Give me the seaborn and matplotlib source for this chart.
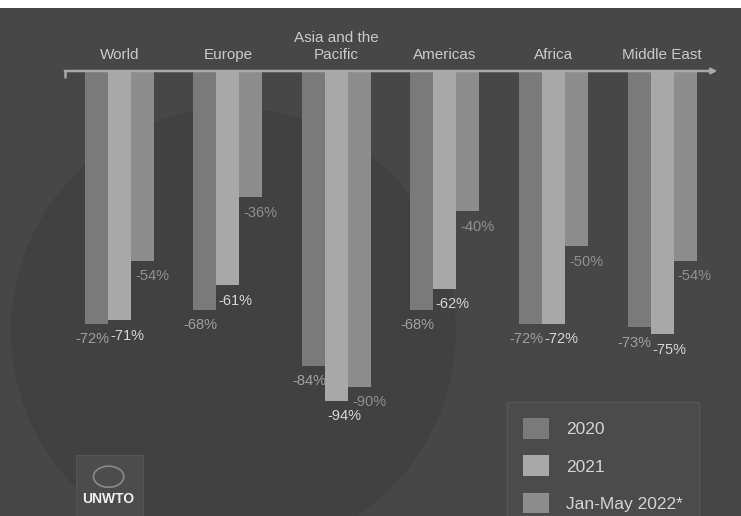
import pandas as pd
import numpy as np
import matplotlib.pyplot as plt
import matplotlib.patches as mpatches
import seaborn as sns

# Data (international tourist arrivals change vs 2019, %)
regions = ["World", "Europe", "Asia and the\nPacific", "Americas", "Africa", "Middle East"]
periods = ["2020", "2021", "Jan-May 2022*"]
vals_2020 = [-72, -68, -84, -68, -72, -73]
vals_2021 = [-71, -61, -94, -62, -72, -75]
vals_2022 = [-54, -36, -90, -40, -50, -54]

df = pd.DataFrame({
    "region": regions * 3,
    "period": [periods[0]] * 6 + [periods[1]] * 6 + [periods[2]] * 6,
    "change": vals_2020 + vals_2021 + vals_2022,
})

bg = "#474747"
palette = {"2020": "#7a7a7a", "2021": "#a8a8a8", "Jan-May 2022*": "#8d8d8d"}
label_colors = {"2020": "#a0a0a0", "2021": "#d6d6d6", "Jan-May 2022*": "#909090"}
label_dx = {"2020": -0.04, "2021": 0.07, "Jan-May 2022*": 0.09}

sns.set_style("white")
plt.rcParams["font.family"] = ["Liberation Sans", "DejaVu Sans"]

fig = plt.figure(figsize=(7.41, 5.16), dpi=100, facecolor="white")
ax = fig.add_axes([0, 0, 1, 508 / 516])
ax.set_facecolor(bg)

# faint dark circle in the background
ax.add_patch(mpatches.Ellipse((1.05, -74), 4.1, 127, color="#414141", zorder=0, lw=0))

sns.barplot(data=df, x="region", y="change", hue="period", order=regions,
            hue_order=periods, palette=palette, width=0.636, saturation=1,
            gap=0, ax=ax, zorder=2, legend=True, linewidth=0)

ax.set_xlim(-1.101, 5.728)
ax.set_ylim(-126.8, 17.95)
for s in ax.spines.values():
    s.set_visible(False)
ax.set_xticks([])
ax.set_yticks([])
ax.set_xlabel("")
ax.set_ylabel("")

# value labels under each bar
for period, cont in zip(periods, ax.containers):
    for bar in cont:
        v = bar.get_height()
        xc = bar.get_x() + bar.get_width() / 2 + label_dx[period]
        ax.text(xc, v - 4.4, f"{int(round(v))}%", ha="center", va="center",
                fontsize=10.5, color=label_colors[period], zorder=3)

# category labels above the axis line
for i, r in enumerate(regions):
    ax.text(i, 2.5, r, ha="center", va="bottom", fontsize=11,
            color="#cacaca", linespacing=1.25, zorder=3)

# axis line with small tick at left and arrow at right
ax.annotate("", xy=(5.51, 0), xytext=(-0.503, 0),
            arrowprops=dict(arrowstyle="-|>", color="#a9a9a9", lw=1.8,
                            mutation_scale=8, shrinkA=0, shrinkB=0), zorder=4)
ax.plot([-0.503, -0.503], [0, -1.6], color="#a9a9a9", lw=1.8, zorder=4)

# legend box
leg = ax.legend(loc="lower left", bbox_to_anchor=(507 / 741, -0.027),
                frameon=True, fontsize=12.5, handlelength=1.45,
                handleheight=1.45, labelspacing=0.95, handletextpad=1.0,
                borderpad=0.95, borderaxespad=0, title=None)
leg.get_frame().set_facecolor("#4b4b4b")
leg.get_frame().set_edgecolor("#555555")
leg.get_frame().set_alpha(1)
leg.get_frame().set_boxstyle("square", pad=0)
for t in leg.get_texts():
    t.set_color("#d4d4d4")
for h in leg.legend_handles:
    h.set_linewidth(0)

# UNWTO logo
ax.add_patch(mpatches.Rectangle((-0.40, -126.8), 0.62, 17.3, facecolor="#4c4c4c",
                                edgecolor="#555555", lw=0.8, zorder=1))
ax.add_patch(mpatches.Ellipse((-0.10, -115.6), 0.28, 6.0, facecolor="none",
                              edgecolor="#8a8a8a", lw=1.2, zorder=3))
ax.text(-0.10, -121.9, "UNWTO", ha="center", va="center", fontsize=10,
        fontweight="bold", color="#f0f0f0", zorder=3)

fig.savefig("out.png", dpi=100, facecolor="white")
